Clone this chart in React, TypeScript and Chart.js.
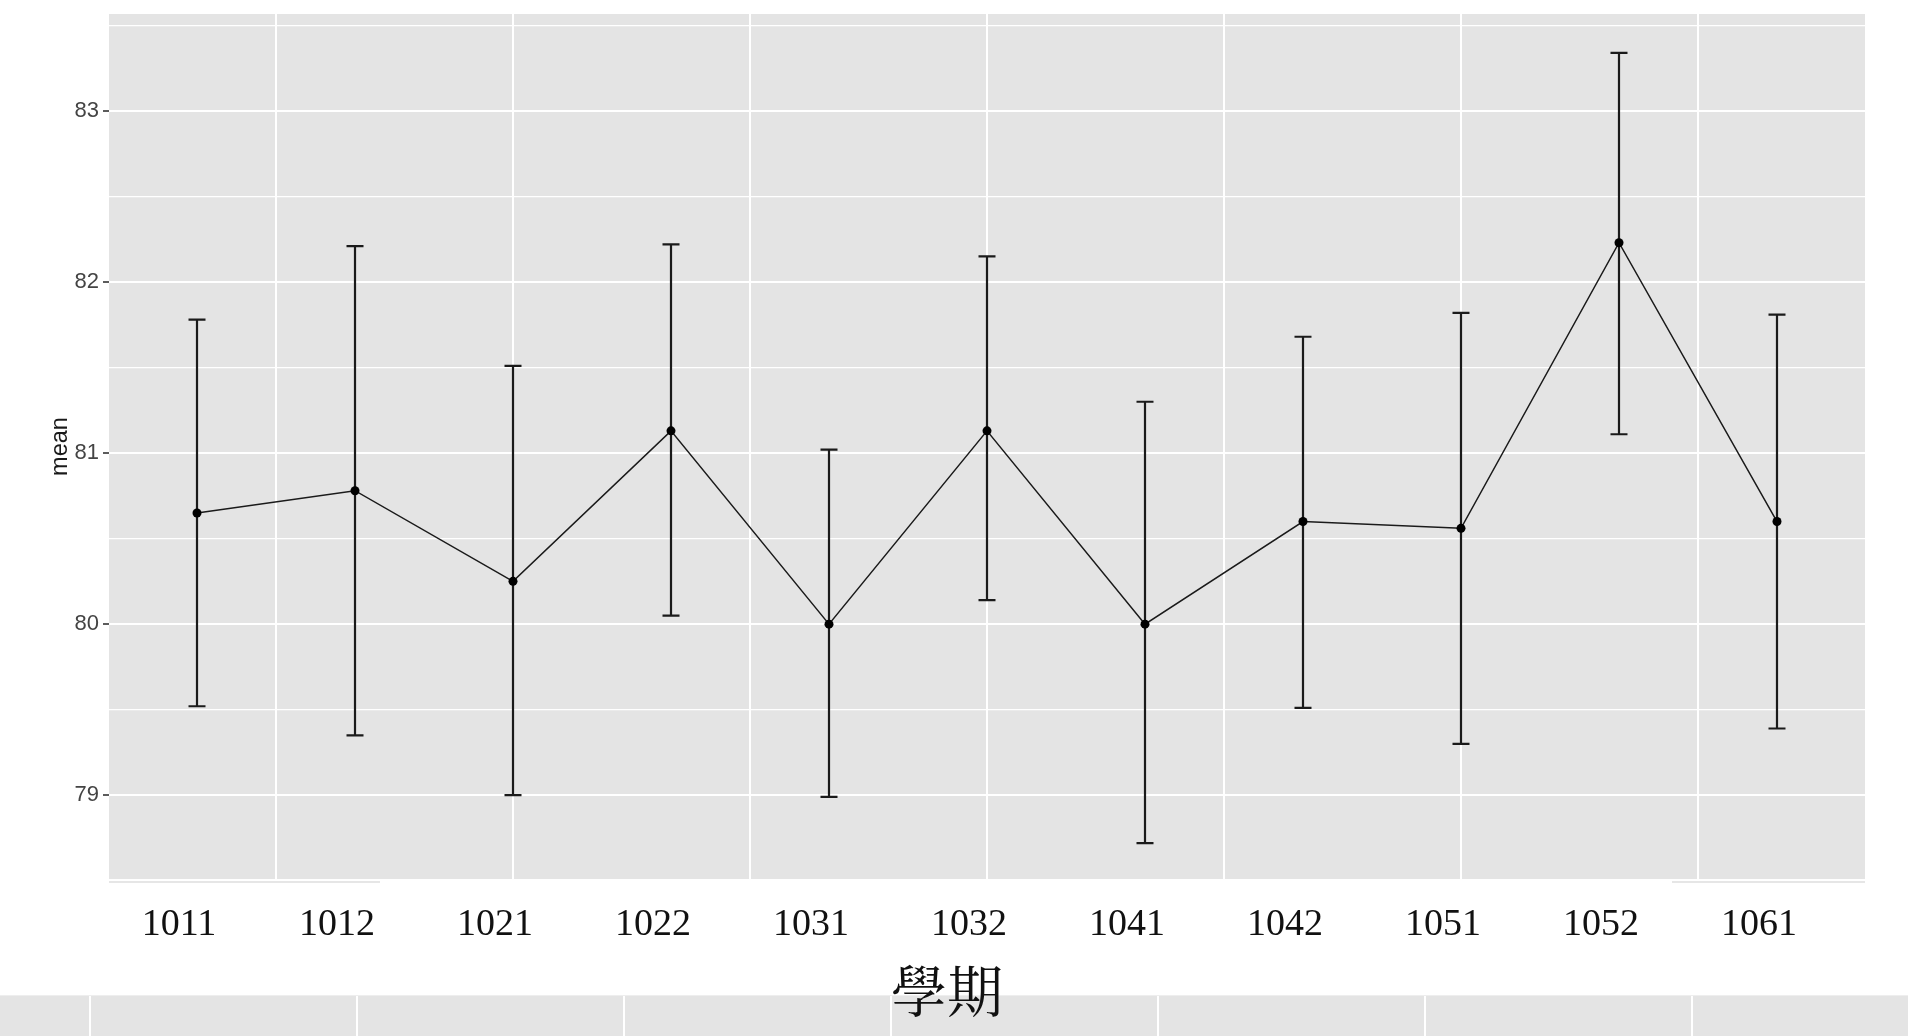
import React, { useEffect, useRef } from "react";
import { Chart, registerables } from "chart.js";

Chart.register(...registerables);

// ---- data ----
const SEMESTERS = ["1011", "1012", "1021", "1022", "1031", "1032", "1041", "1042", "1051", "1052", "1061"];
const MEANS = [80.65, 80.78, 80.25, 81.13, 80.0, 81.13, 80.0, 80.6, 80.56, 82.23, 80.6];
const UPPER = [81.78, 82.21, 81.51, 82.22, 81.02, 82.15, 81.3, 81.68, 81.82, 83.34, 81.81];
const LOWER = [79.52, 79.35, 79.0, 80.05, 78.99, 80.14, 78.72, 79.51, 79.3, 81.11, 79.39];
const Y_TICKS = [79, 80, 81, 82, 83];
const X_GRID = [0.5, 2, 3.5, 5, 6.5, 8, 9.5];
const X_MIN = -0.557;
const X_MAX = 10.557;
const Y_MIN = 78.51;
const Y_MAX = 83.567;

const PANEL_BG = "#E4E4E4";
const INK = "#1a1a1a";

const panelBackground = {
  id: "panelBackground",
  beforeDraw(chart: any) {
    const { ctx, chartArea } = chart;
    ctx.save();
    ctx.fillStyle = PANEL_BG;
    ctx.fillRect(chartArea.left, chartArea.top, chartArea.right - chartArea.left, chartArea.bottom - chartArea.top);
    ctx.restore();
  },
};

const errorBars = {
  id: "errorBars",
  beforeDatasetsDraw(chart: any) {
    const { ctx } = chart;
    const x = chart.scales.x;
    const y = chart.scales.y;
    const half = 8.5;
    ctx.save();
    ctx.strokeStyle = INK;
    ctx.lineWidth = 2.2;
    MEANS.forEach((_, i) => {
      const px = x.getPixelForValue(i);
      const top = y.getPixelForValue(UPPER[i]);
      const bot = y.getPixelForValue(LOWER[i]);
      ctx.beginPath();
      ctx.moveTo(px, top);
      ctx.lineTo(px, bot);
      ctx.moveTo(px - half, top);
      ctx.lineTo(px + half, top);
      ctx.moveTo(px - half, bot);
      ctx.lineTo(px + half, bot);
      ctx.stroke();
    });
    ctx.restore();
  },
};

const noPad = (s: any) => {
  s.paddingTop = 0;
  s.paddingBottom = 0;
  s.paddingLeft = 0;
  s.paddingRight = 0;
};

export default function App() {
  const canvasRef = useRef<HTMLCanvasElement | null>(null);

  useEffect(() => {
    if (!canvasRef.current) return;
    const allY = Y_TICKS.flatMap((v) => [v, v + 0.5]);
    const chart = new Chart(canvasRef.current, {
      type: "line",
      data: {
        datasets: [
          {
            data: MEANS.map((m, i) => ({ x: i, y: m })),
            borderColor: INK,
            borderWidth: 1.5,
            pointRadius: 4.5,
            pointBackgroundColor: "#000",
            pointBorderColor: "#000",
            pointBorderWidth: 0,
            tension: 0,
          },
        ],
      },
      options: {
        animation: false,
        responsive: false,
        devicePixelRatio: 1,
        layout: { padding: { left: 0, top: 14, right: 43, bottom: 0 } },
        plugins: { legend: { display: false }, tooltip: { enabled: false } },
        scales: {
          x: {
            type: "linear",
            position: "bottom",
            min: X_MIN,
            max: X_MAX,
            afterBuildTicks: (s: any) => {
              s.ticks = X_GRID.map((v) => ({ value: v }));
            },
            ticks: { display: false },
            grid: { color: "#ffffff", lineWidth: 2, drawTicks: false },
            border: { display: false },
            afterFit: (s: any) => {
              s.height = 0;
              noPad(s);
            },
          },
          xl: {
            type: "linear",
            position: "bottom",
            min: X_MIN,
            max: X_MAX,
            afterBuildTicks: (s: any) => {
              s.ticks = SEMESTERS.map((_, i) => ({ value: i }));
            },
            ticks: {
              callback: (_v: any, i: number) => SEMESTERS[i],
              font: { family: '"Liberation Serif", "DejaVu Serif", serif', size: 38 },
              color: "#111111",
              padding: 23,
              labelOffset: -18,
              autoSkip: false,
              maxRotation: 0,
            },
            grid: { display: false, drawTicks: false },
            border: { display: false },
            afterFit: (s: any) => {
              s.height = 116;
              noPad(s);
            },
          },
          y: {
            type: "linear",
            min: Y_MIN,
            max: Y_MAX,
            afterBuildTicks: (s: any) => {
              s.ticks = allY.map((v) => ({ value: v }));
            },
            ticks: {
              callback: (v: any) => (Number.isInteger(v) ? String(v) : ""),
              color: "#444444",
              font: { family: '"Liberation Sans", Arial, sans-serif', size: 22 },
              padding: 4,
            },
            grid: {
              color: "#ffffff",
              lineWidth: (c: any) => (Number.isInteger(c.tick?.value) ? 2 : 1.2),
              tickColor: (c: any) => (Number.isInteger(c.tick?.value) ? "#333333" : "rgba(0,0,0,0)"),
              tickLength: 6,
              tickWidth: 1.6,
            },
            border: { display: false },
            title: {
              display: true,
              text: "mean",
              color: INK,
              font: { family: '"Liberation Sans", Arial, sans-serif', size: 23.5 },
              padding: { top: 46, bottom: 0 },
            },
            afterFit: (s: any) => {
              s.width = 109;
              noPad(s);
            },
          },
        },
      } as any,
      plugins: [panelBackground, errorBars],
    });
    return () => chart.destroy();
  }, []);

  return (
    <div
      style={{
        position: "absolute",
        left: 0,
        top: 0,
        width: 1908,
        height: 1036,
        background: "#ffffff",
        overflow: "hidden",
      }}
    >
      <canvas ref={canvasRef} width={1908} height={995} style={{ position: "absolute", left: 0, top: 0, display: "block" }} />
      <div style={{ position: "absolute", left: 109, top: 881, width: 271, height: 2, background: "#e6e6e6" }} />
      <div style={{ position: "absolute", left: 1672, top: 881, width: 193, height: 2, background: "#e6e6e6" }} />
      <div
        style={{
          position: "absolute",
          left: 0,
          top: 995,
          width: 1908,
          height: 41,
          backgroundColor: PANEL_BG,
          backgroundImage: `repeating-linear-gradient(90deg, ${PANEL_BG} 0px, ${PANEL_BG} 265px, #ffffff 265px, #ffffff 267px)`,
          backgroundPosition: "-176px 0",
          borderTop: "1px solid #eeeeee",
        }}
      />
      <div
        style={{
          position: "absolute",
          left: 847,
          top: 960,
          width: 200,
          textAlign: "center",
          fontSize: 56,
          lineHeight: 1,
          color: "#111111",
          fontFamily: '"Noto Serif CJK TC", "Noto Sans CJK TC", serif',
        }}
      >
        學期
      </div>
    </div>
  );
}
